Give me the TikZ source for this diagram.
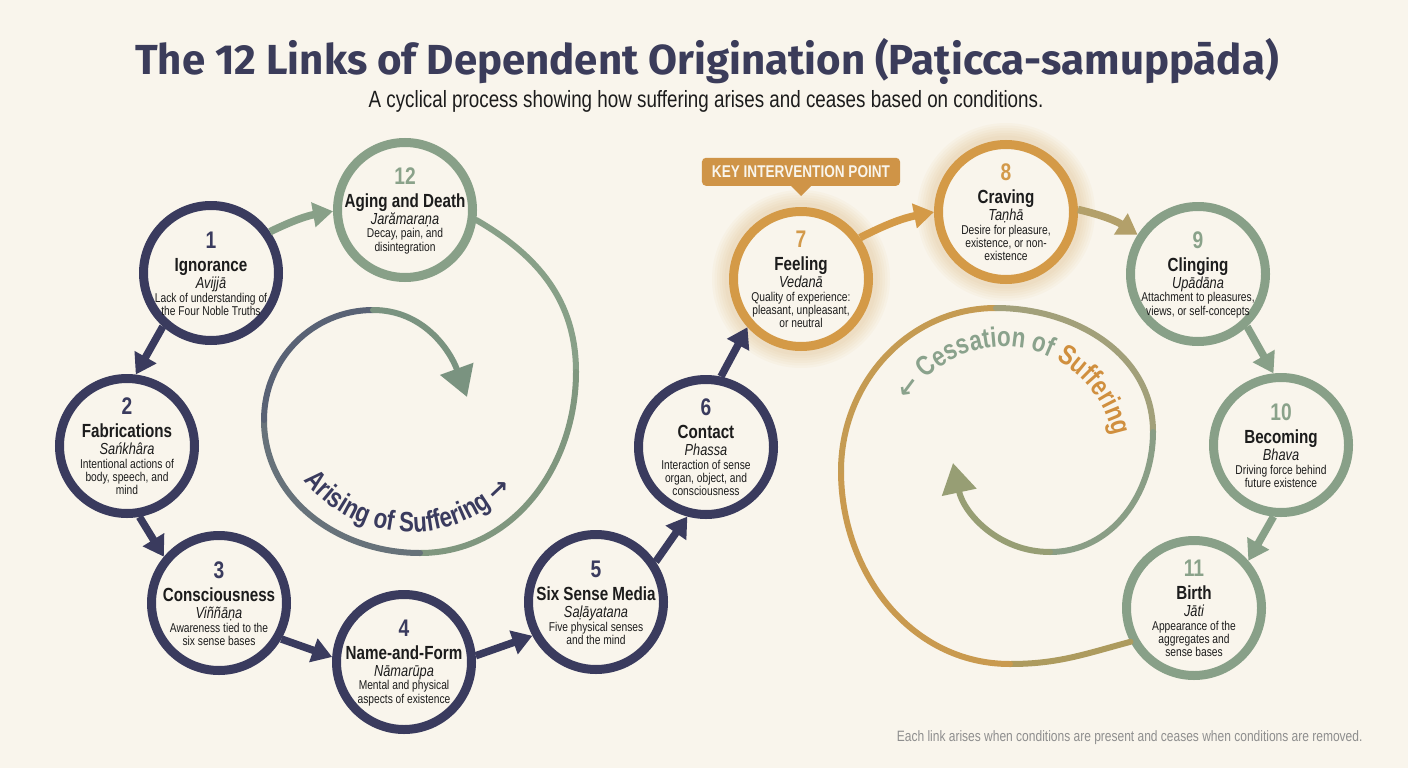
\documentclass[tikz,border=0pt]{standalone}
\usepackage{fontspec}
\usepackage{tikz}
\usetikzlibrary{arrows.meta, positioning, decorations.text}

\setmainfont{Liberation Sans}
\newfontfamily\condfont[FakeStretch=0.8]{Liberation Sans}
\newfontfamily\headfont{Fira Sans}
\newfontfamily\symfont{DejaVu Sans}

\definecolor{bgc}{HTML}{F9F5EC}
\definecolor{navyc}{HTML}{3A3B5E}
\definecolor{sagec}{HTML}{88A088}
\definecolor{goldc}{HTML}{D49A47}
\definecolor{inkc}{HTML}{1C1C1C}
\definecolor{titlec}{HTML}{3B3C5A}
\definecolor{notec}{HTML}{8E8E8E}
\definecolor{calloutc}{HTML}{CF9447}
\definecolor{numgold}{HTML}{D39A4B}
\definecolor{numsage}{HTML}{8AA28A}
\definecolor{mixc}{HTML}{B3A06A}
\definecolor{arise2}{HTML}{80977F}
\definecolor{arise3}{HTML}{67727A}
\definecolor{arise4}{HTML}{596275}
\definecolor{arise5}{HTML}{7A9380}
\definecolor{cease1}{HTML}{AD9B5E}
\definecolor{cease2}{HTML}{C99A4F}
\definecolor{cease3}{HTML}{C59B52}
\definecolor{cease4}{HTML}{A2A07A}
\definecolor{cease5}{HTML}{8A9E86}
\definecolor{cease6}{HTML}{979E74}
\definecolor{sagetext}{HTML}{8AA28C}
\definecolor{sufferc}{HTML}{D08F3E}

\newcommand\numfont{\bfseries\fontsize{24}{24}\selectfont}
\newcommand\namefont{\condfont\bfseries\fontsize{19}{19}\selectfont}
\newcommand\palifont{\condfont\itshape\fontsize{16}{16}\selectfont}
\newcommand\descfont{\condfont\fontsize{12.8}{13.3}\selectfont\lineskip=0pt\lineskiplimit=0pt}
\newcommand\arcfont{\condfont\bfseries\fontsize{28}{28}\selectfont}
\newcommand\arrowfont{\symfont\bfseries\fontsize{25}{25}\selectfont}

% number, name, pali term, description
\newcommand\linkbody[5]{%
  {\numfont\color{#1}\vrule height 18pt depth 2pt width 0pt #2}\\
  {\namefont\vrule height 20.8pt depth 5pt width 0pt #3}\\
  {\palifont\vrule height 12pt depth 4.4pt width 0pt #4}\\
  #5}

\begin{document}
\begin{tikzpicture}[x=1pt, y=1pt,
        link/.style={circle, line width=9pt, fill=bgc, minimum size=135pt, inner sep=0pt},
        navylink/.style={link, draw=navyc},
        goldlink/.style={link, draw=goldc},
        sagelink/.style={link, draw=sagec},
        linktext/.style={align=center, inner sep=0pt, font=\descfont, text=inkc},
        flow/.style={line width=7.5pt, -{Triangle[length=20pt, width=24pt]}},
        spiral/.style={line width=6pt, line cap=round},
        bigtip/.style={-{Triangle[length=30pt, width=34pt]}},
        glow/.style={goldc, opacity=0.045, line width=#1},
        keybox/.style={fill=calloutc, rounded corners=4pt, text=bgc, font=\condfont\bfseries\fontsize{17}{17}\selectfont, minimum height=28pt, inner xsep=10pt, inner ysep=0pt}
    ]
    \useasboundingbox (0,0) rectangle (1408,-768);
    \fill[bgc] (0,0) rectangle (1408,-768);

    % Heading
    \node[font=\headfont\bfseries\fontsize{42}{42}\selectfont, text=titlec] (title) at (707,-62) {The 12 Links of Dependent Origination (Paṭicca-samuppāda)};
    \node[font=\condfont\fontsize{23.5}{23.5}\selectfont, text=inkc] (subtitle) at (706,-101) {A cyclical process showing how suffering arises and ceases based on conditions.};

    % Glow behind 7 and 8
    \foreach \c in {(801,-279), (1006,-212)} {
        \foreach \w in {34, 29, 24, 19, 14, 9}
            \draw[glow=\w pt] \c circle (72);
    }

    % Links
    \node[navylink, label={[linktext]center:\linkbody{navyc}{1}{Ignorance}{Avijjā}{Lack of understanding of\\the Four Noble Truths}}] (n1) at (211,-273) {};
    \node[navylink, label={[linktext]center:\linkbody{navyc}{2}{Fabrications}{Sańkhâra}{Intentional actions of\\body, speech, and\\mind}}] (n2) at (127,-446) {};
    \node[navylink, label={[linktext]center:\linkbody{navyc}{3}{Consciousness}{Viññāṇa}{Awareness tied to the\\six sense bases}}] (n3) at (219,-603) {};
    \node[navylink, label={[linktext]center:\linkbody{navyc}{4}{Name-and-Form}{Nāmarūpa}{Mental and physical\\aspects of existence}}] (n4) at (404,-662) {};
    \node[navylink, label={[linktext]center:\linkbody{navyc}{5}{Six Sense Media}{Saḷāyatana}{Five physical senses\\and the mind}}] (n5) at (596,-602) {};
    \node[navylink, label={[linktext]center:\linkbody{navyc}{6}{Contact}{Phassa}{Interaction of sense\\organ, object, and\\consciousness}}] (n6) at (706,-447) {};
    \node[goldlink, label={[linktext]center:\linkbody{numgold}{7}{Feeling}{Vedanā}{Quality of experience:\\pleasant, unpleasant,\\or neutral}}] (n7) at (801,-279) {};
    \node[goldlink, label={[linktext]center:\linkbody{numgold}{8}{Craving}{Taṇhā}{Desire for pleasure,\\existence, or non-\\existence}}] (n8) at (1006,-212) {};
    \node[sagelink, label={[linktext]center:\linkbody{numsage}{9}{Clinging}{Upādāna}{Attachment to pleasures,\\views, or self-concepts}}] (n9) at (1198,-274) {};
    \node[sagelink, label={[linktext]center:\linkbody{numsage}{10}{Becoming}{Bhava}{Driving force behind\\future existence}}] (n10) at (1281,-445) {};
    \node[sagelink, label={[linktext]center:\linkbody{numsage}{11}{Birth}{Jāti}{Appearance of the\\aggregates and\\sense bases}}] (n11) at (1194,-608) {};
    \node[sagelink, label={[linktext]center:\linkbody{numsage}{12}{Aging and Death}{Jarămaraṇa}{Decay, pain, and\\disintegration}}] (n12) at (405,-210) {};

    % Callout
    \node[keybox, above=21pt of n7] (keypt) {KEY INTERVENTION POINT};
    \fill[calloutc] ([xshift=-10pt]keypt.south) -- ([xshift=10pt]keypt.south) -- ([yshift=-10pt]keypt.south) -- cycle;

    % Connections
    \draw[flow, sagec] (n1.35) to[bend left=8] (n12.181);
    \draw[flow, navyc] (n1.228) -- (n2.83);
    \draw[flow, navyc] (n2.280) -- (n3.140);
    \draw[flow, navyc] (n3.330) -- (n4.176);
    \draw[flow, navyc] (n4.5) -- (n5.208);
    \draw[flow, navyc] (n5.34) -- (n6.255);
    \draw[flow, navyc] (n6.78) -- (n7.222);
    \draw[flow, goldc] (n7.35) to[bend left=8] (n8.180);
    \draw[flow, mixc] (n8.2) to[bend left=10] (n9.147);
    \draw[flow, sagec] (n9.313) -- (n10.96);
    \draw[flow, sagec] (n10.264) -- (n11.41);

    % Arising spiral
    \coordinate (aR) at (576,-372);
    \coordinate (aB) at (420,-553);
    \coordinate (aL) at (264,-420);
    \coordinate (aT) at (373,-310);
    \coordinate (aTip) at (467,-397);
    \draw[spiral, sagec] (n12.-8) to[out=-30, in=90] (aR);
    \draw[spiral, arise2] (aR) to[out=-90, in=0] (aB);
    \draw[spiral, arise3] (aB) to[out=180, in=-90] (aL);
    \draw[spiral, arise4] (aL) to[out=90, in=180] (aT);
    \draw[spiral, bigtip, arise5] (aT) to[out=0, in=110] (aTip);
    \path[decorate, decoration={text along path, text align=center,
        text={|\arcfont\color{navyc}|Arising of Suffering |\arrowfont\color{navyc}|→}}]
        (411,-396) ++(208:136) arc[start angle=208, end angle=328, radius=136];

    % Cessation spiral
    \coordinate (cB) at (1010,-664);
    \coordinate (cL) at (841,-471);
    \coordinate (cT) at (996,-308);
    \coordinate (cR) at (1153,-432);
    \coordinate (cI) at (1050,-552);
    \coordinate (cTip) at (953,-463);
    \draw[spiral, cease1] (n11.208) to[out=195, in=0] (cB);
    \draw[spiral, cease2] (cB) to[out=180, in=-90] (cL);
    \draw[spiral, cease3] (cL) to[out=90, in=180] (cT);
    \draw[spiral, cease4] (cT) to[out=0, in=90] (cR);
    \draw[spiral, cease5] (cR) to[out=-90, in=0] (cI);
    \draw[spiral, bigtip, cease6] (cI) to[out=180, in=-78] (cTip);
    \path[decorate, decoration={text along path, text align=center,
        text={|\arrowfont\color{sagetext}|←|\arcfont\color{sagetext}| Cessation of |\arcfont\color{sufferc}|Suffering}}]
        (1004,-458) ++(150:111) arc[start angle=150, end angle=10, radius=111];

    % Footnote
    \node[font=\condfont\fontsize{15}{15}\selectfont, text=notec, anchor=east] (note) at (1366,-738) {Each link arises when conditions are present and ceases when conditions are removed.};
\end{tikzpicture}
\end{document}
